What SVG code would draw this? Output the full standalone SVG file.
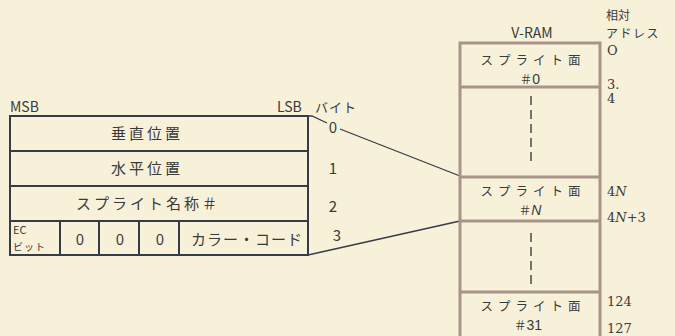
<svg xmlns="http://www.w3.org/2000/svg" width="675" height="336" viewBox="0 0 675 336">
<style>
text{font-family:"Noto Sans CJK JP","Liberation Sans",sans-serif;fill:#3a3a3a}
.t{font-size:15px;text-anchor:middle}
.w{letter-spacing:3px}
.v{font-size:12.5px;text-anchor:middle;letter-spacing:5px}
.h{font-size:12.5px;text-anchor:middle;letter-spacing:0}
.s{font-size:13px}
.a{font-size:12px}
.n{font-family:"DejaVu Serif","Noto Sans CJK JP",serif;font-size:13px}
.tbl{fill:none;stroke:#353c45;stroke-width:2}
.vr{fill:none;stroke:#a89488;stroke-width:3}
.con{fill:none;stroke:#353c45;stroke-width:1.3}
.dash{stroke:#4a4a4a;stroke-width:1.5;stroke-dasharray:9,5}
</style>
<rect width="675" height="336" fill="#f8f1da"/>
<g id="table">
<rect class="tbl" x="10" y="116" width="298" height="139"/>
<line class="tbl" x1="10" y1="151" x2="308" y2="151"/>
<line class="tbl" x1="10" y1="186" x2="308" y2="186"/>
<line class="tbl" x1="10" y1="221" x2="308" y2="221"/>
<line class="tbl" x1="60" y1="221" x2="60" y2="255"/>
<line class="tbl" x1="99" y1="221" x2="99" y2="255"/>
<line class="tbl" x1="139" y1="221" x2="139" y2="255"/>
<line class="tbl" x1="179" y1="221" x2="179" y2="255"/>
<text x="10" y="112" font-size="14" font-family="Liberation Sans">MSB</text>
<text x="277" y="112" font-size="14" font-family="Liberation Sans">LSB</text>
<text class="s" x="315" y="112" letter-spacing="1">バイト</text>
<text class="t w" x="147" y="139">垂直位置</text>
<text class="t w" x="147" y="174">水平位置</text>
<text class="t w" x="148" y="209">スプライト名称＃</text>
<text x="13" y="234" font-size="11" font-family="Liberation Sans">EC</text>
<text x="13" y="251" font-size="10" letter-spacing="1">ビット</text>
<text class="t" x="80" y="245" font-family="Liberation Sans">0</text>
<text class="t" x="120" y="245" font-family="Liberation Sans">0</text>
<text class="t" x="160" y="245" font-family="Liberation Sans">0</text>
<text class="t" x="247" y="245" letter-spacing="1">カラー・コード</text>
<text class="t" x="333" y="133" font-family="Liberation Sans">0</text>
<text class="t" x="333" y="174" font-family="Liberation Sans">1</text>
<text class="t" x="333" y="212" font-family="Liberation Sans">2</text>
<text class="t" x="337" y="241" font-family="Liberation Sans">3</text>
</g>
<g id="connectors">
<polyline class="con" points="308,116 312,116 327,123"/>
<line class="con" x1="340" y1="129" x2="460" y2="176"/>
<line class="con" x1="308" y1="255" x2="460" y2="221"/>
</g>
<g id="vram">
<text x="532" y="38" font-size="14" text-anchor="middle" font-family="Liberation Sans">V-RAM</text>
<rect class="vr" x="460" y="43" width="140" height="296"/>
<line class="vr" x1="460" y1="87" x2="600" y2="87"/>
<line class="vr" x1="460" y1="177" x2="600" y2="177"/>
<line class="vr" x1="460" y1="221" x2="600" y2="221"/>
<line class="vr" x1="460" y1="292" x2="600" y2="292"/>
<text class="v" x="533" y="65">スプライト面</text>
<text class="h" x="530" y="84">＃<tspan font-family="Liberation Sans" font-size="14">0</tspan></text>
<line class="dash" x1="531" y1="96" x2="531" y2="162"/>
<text class="v" x="533" y="196">スプライト面</text>
<text class="h" x="530" y="215">＃<tspan font-style="italic" font-family="Liberation Sans" font-size="14">N</tspan></text>
<line class="dash" x1="531" y1="233" x2="531" y2="285"/>
<text class="v" x="533" y="311">スプライト面</text>
<text class="h" x="528" y="330">＃<tspan font-family="Liberation Sans" font-size="14">31</tspan></text>
</g>
<g id="addresses">
<text class="a" x="606" y="20">相対</text>
<text class="a" x="606" y="38" letter-spacing="1.5">アドレス</text>
<text class="n" x="607" y="55">O</text>
<text class="n" x="607" y="89">3.</text>
<text class="n" x="607" y="103">4</text>
<text class="n" x="607" y="196">4<tspan font-style="italic">N</tspan></text>
<text class="n" x="607" y="222">4<tspan font-style="italic">N</tspan>+3</text>
<text class="n" x="607" y="306">124</text>
<text class="n" x="607" y="333">127</text>
</g>
</svg>
